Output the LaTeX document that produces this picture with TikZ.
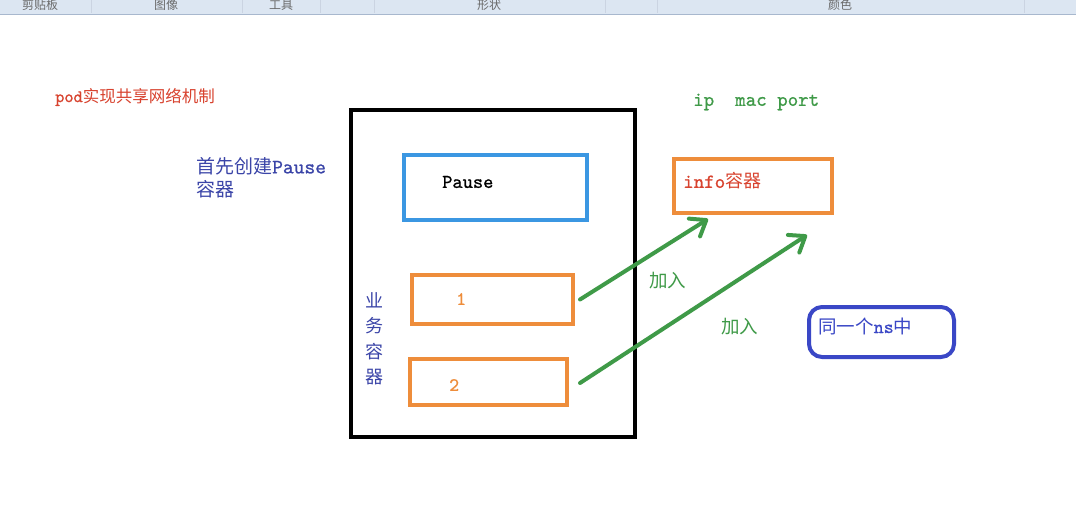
\documentclass[tikz,border=0pt]{standalone}
\usepackage{fontspec}
\newfontfamily\cjk{Noto Sans CJK SC}
\newfontfamily\smono{lmmono10-regular.otf}[FakeBold=0.9]
\usetikzlibrary{arrows.meta,calc}
\definecolor{tred}{HTML}{D8432F}
\definecolor{tblue}{HTML}{3B45A8}
\definecolor{tgreen}{HTML}{3F9A48}
\definecolor{borange}{HTML}{EE8D3B}
\definecolor{bblue}{HTML}{3B97E2}
\definecolor{rblue}{HTML}{3A47C6}
\definecolor{strip}{HTML}{DCE6F2}
\definecolor{stripline}{HTML}{A8B8CE}
\definecolor{striptext}{HTML}{6A6A6A}
\newcommand{\lat}[2]{{\smono\fontsize{#1}{#1}\selectfont #2}}
\newcommand{\han}[2]{{\cjk\fontsize{#1}{#1}\selectfont #2}}
\tikzset{
  box/.style={draw, line width=4pt, inner sep=0pt},
  txt/.style={inner sep=0pt, anchor=west},
  arr/.style={draw=tgreen, line width=4pt, line cap=round,
    -{Straight Barb[length=14pt,width=21pt,round]}},
  tool/.style={inner sep=0pt, text=striptext, font=\cjk\fontsize{12}{12}\selectfont},
}
\begin{document}
\begin{tikzpicture}[x=1pt,y=-1pt]
\useasboundingbox (0,0) rectangle (1076,505);
\fill[white] (0,0) rectangle (1076,505);
% toolbar strip
\fill[strip] (0,0) rectangle (1076,14);
\node[tool] (t1) at (40,5) {剪贴板};
\node[tool] (t2) at (166,5) {图像};
\node[tool] (t3) at (281,5) {工具};
\node[tool] (t4) at (489,5) {形状};
\node[tool] (t5) at (840,5) {颜色};
\foreach \x in {91,242,320,374,605,657,1024}
  \draw[stripline!60, line width=0.8pt] (\x,0) -- (\x,13);
\draw[stripline, line width=1.5pt] (0,14.5) -- (1076,14.5);

% title
\node[txt, text=tred] (title) at (55,97) {\lat{17.5}{pod}\han{16.5}{实现共享网络机制}};
% left note
\node[txt, text=tblue, align=left] (first) at (196,177.5)
  {\han{19}{首先创建}\lat{20.5}{Pause}\\[4pt]\han{19}{容器}};

% pod box
\node[box, draw=black, minimum width=284pt, minimum height=327pt] (pod) at (493,273.5) {};
\node[box, draw=bblue, minimum width=183pt, minimum height=65pt] (pause) at (495.5,187.5) {};
\node[txt] (pausetxt) at (442,182) {\lat{19.5}{Pause}};
\node[box, draw=borange, minimum width=161pt, minimum height=49pt] (b1) at (492.5,299.5) {};
\node[txt, text=borange] (one) at (456,299) {\lat{19}{1}};
\node[box, draw=borange, minimum width=157pt, minimum height=46pt] (b2) at (488.5,382) {};
\node[txt, text=borange] (two) at (449,385) {\lat{19}{2}};
\node[inner sep=0pt, text=tblue, align=center, font=\cjk\fontsize{18}{25.5}\selectfont] (biz) at (374,339)
  {业\\务\\容\\器};

% info box
\node[txt, text=tgreen] (ipmac) at (693,102) {\lat{20}{ip\ \ mac port}};
\node[box, draw=borange, minimum width=158pt, minimum height=54pt] (info) at (753,186) {};
\node[txt, text=tred] (infotxt) at (683,181) {\lat{20}{info}\han{18}{容器}};

% arrows
\coordinate (e1) at (708,219);
\coordinate (e2) at (807,235);
\draw[arr] ($(b1.east)+(5,0)$) -- (e1);
\draw[arr] ($(b2.east)+(11,1)$) -- (e2);
\node[txt, text=tgreen] (join1) at (649,281) {\han{18.5}{加入}};
\node[txt, text=tgreen] (join2) at (721,327) {\han{18.5}{加入}};

% same ns
\node[box, draw=rblue, rounded corners=13pt, minimum width=145pt, minimum height=50pt] (ns) at (881.5,332) {};
\node[txt, text=rblue] (nstxt) at (818,326) {\han{18.5}{同一个}\lat{19}{ns}\han{18.5}{中}};
\end{tikzpicture}
\end{document}
